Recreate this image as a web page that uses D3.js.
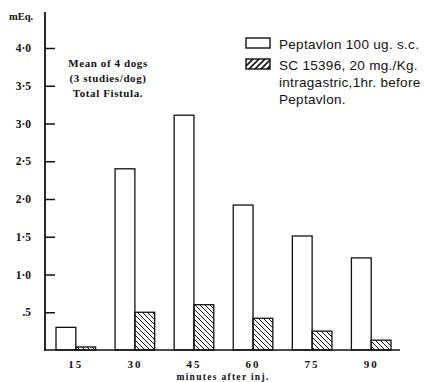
<!DOCTYPE html>
<html><head><meta charset="utf-8">
<script src="https://cdn.jsdelivr.net/npm/d3@7"></script>
<style>body{margin:0;background:#fff;}svg{display:block;}</style>
</head><body>
<svg id="c" width="441" height="382"></svg>
<script>
const categories = ["15","30","45","60","75","90"];
const peptavlon = [0.30, 2.40, 3.11, 1.92, 1.51, 1.22];
const sc15396 = [0.04, 0.50, 0.60, 0.42, 0.25, 0.13];
const yTicks = [0.5, 1.0, 1.5, 2.0, 2.5, 3.0, 3.5, 4.0];
const yTickLabels = [".5","1·0","1·5","2·0","2·5","3·0","3·5","4·0"];
const seriesNames = ["Peptavlon 100 ug. s.c.", "SC 15396, 20 mg./Kg.", "intragastric,1hr. before", "Peptavlon."];

const svg = d3.select("#c");
const defs = svg.append("defs");
defs.append("pattern").attr("id","hb").attr("patternUnits","userSpaceOnUse").attr("width",5).attr("height",5)
  .append("path").attr("d","M0,0L5,5M-1,4L1,6M4,-1L6,1").attr("stroke","#111").attr("stroke-width",1);
defs.append("pattern").attr("id","hl").attr("patternUnits","userSpaceOnUse").attr("width",6).attr("height",6)
  .append("path").attr("d","M0,6L6,0M-1,1L1,-1M5,7L7,5").attr("stroke","#111").attr("stroke-width",1.6);

const x0 = 45, yBase = 350;
const y = d3.scaleLinear().domain([0, 4]).range([yBase, 48]);
const x = d3.scaleBand().domain(categories).range([56, 391]).paddingInner(0.33).paddingOuter(0);
const xs = d3.scaleBand().domain(["a","b"]).range([0, x.bandwidth()]);

const serif = "'Liberation Serif', 'DejaVu Serif', serif";
const sans = "'Liberation Sans', Arial, sans-serif";

// bars
const g = svg.append("g");
categories.forEach((c, i) => {
  g.append("rect").attr("x", x(c)+xs("a")).attr("y", y(peptavlon[i]))
    .attr("width", xs.bandwidth()).attr("height", yBase - y(peptavlon[i]))
    .attr("fill","#fff").attr("stroke","#111").attr("stroke-width",1.3);
  g.append("rect").attr("x", x(c)+xs("b")).attr("y", y(sc15396[i]))
    .attr("width", xs.bandwidth()).attr("height", yBase - y(sc15396[i]))
    .attr("fill","url(#hb)").attr("stroke","#111").attr("stroke-width",1.3);
});

// y axis
const yAxis = d3.axisRight(y).tickValues(yTicks).tickSize(10).tickFormat((d,i)=>"");
const ya = svg.append("g").attr("transform",`translate(${x0},0)`).call(yAxis);
ya.select(".domain").remove();
ya.selectAll(".tick line").attr("stroke","#111").attr("stroke-width",1.5);
svg.append("line").attr("x1",x0).attr("x2",x0).attr("y1",12).attr("y2",yBase+1).attr("stroke","#111").attr("stroke-width",1.8);
svg.append("g").selectAll("text").data(yTicks).join("text")
  .attr("x",31).attr("y",d=>y(d)+4).attr("text-anchor","end")
  .attr("font-family",serif).attr("font-weight","bold").attr("font-size",11.5).attr("fill","#111")
  .text((d,i)=>yTickLabels[i]);

// x axis
svg.append("line").attr("x1",x0).attr("x2",400).attr("y1",yBase).attr("y2",yBase).attr("stroke","#111").attr("stroke-width",1.5);
const xa = svg.append("g").attr("transform",`translate(0,${yBase})`).call(d3.axisBottom(x).tickSize(0).tickPadding(10));
xa.select(".domain").remove();
xa.selectAll("text").attr("font-family",serif).attr("font-weight","bold").attr("font-size",11)
  .attr("letter-spacing","2px").attr("fill","#111");

svg.append("text").attr("x",223).attr("y",380).attr("text-anchor","middle")
  .attr("font-family",serif).attr("font-weight","bold").attr("font-size",9.5).attr("letter-spacing","1.3px").attr("fill","#111")
  .text("minutes after inj.");

svg.append("text").attr("x",9).attr("y",20)
  .attr("font-family",serif).attr("font-weight","bold").attr("font-size",10.5).attr("fill","#111").text("mEq.");

const note = ["Mean  of 4 dogs", "(3 studies/dog)", "Total  Fistula."];
svg.append("g").selectAll("text").data(note).join("text")
  .attr("x",108).attr("y",(d,i)=>67+i*15).attr("text-anchor","middle")
  .attr("font-family",serif).attr("font-weight","bold").attr("font-size",11).attr("letter-spacing","0.6px").attr("fill","#111")
  .text(d=>d);

// legend
svg.append("rect").attr("x",246).attr("y",38).attr("width",24).attr("height",10).attr("fill","#fff").attr("stroke","#111").attr("stroke-width",1.4);
svg.append("rect").attr("x",246).attr("y",59).attr("width",24).attr("height",10).attr("fill","url(#hl)").attr("stroke","#111").attr("stroke-width",1.4);
svg.append("g").selectAll("text").data(seriesNames).join("text")
  .attr("x",279).attr("y",(d,i)=>[49,70,87,104][i])
  .attr("font-family",sans).attr("font-size",13.5).attr("letter-spacing","0.3px").attr("fill","#111").text(d=>d);
</script>
</body></html>
